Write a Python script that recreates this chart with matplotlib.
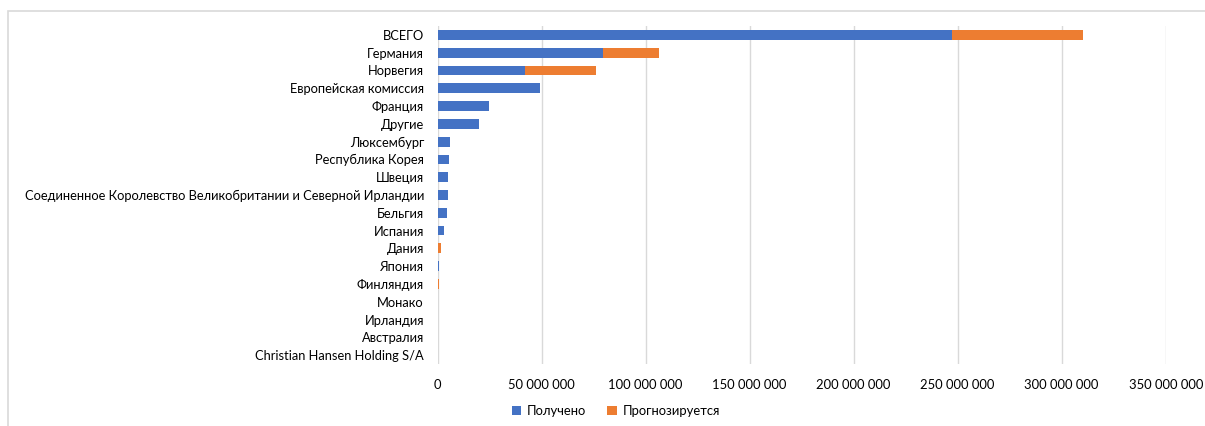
import matplotlib
matplotlib.use("Agg")
import matplotlib.pyplot as plt
from matplotlib.patches import Rectangle
from matplotlib.ticker import FuncFormatter

categories = [
    "ВСЕГО", "Германия", "Норвегия", "Европейская комиссия", "Франция", "Другие",
    "Люксембург", "Республика Корея", "Швеция",
    "Соединенное Королевство Великобритании и Северной Ирландии",
    "Бельгия", "Испания", "Дания", "Япония", "Финляндия", "Монако",
    "Ирландия", "Австралия", "Christian Hansen Holding S/A",
]
received = [
    247_300_000, 79_600_000, 42_100_000, 49_400_000, 24_900_000, 20_000_000,
    5_900_000, 5_300_000, 5_000_000, 5_000_000, 4_500_000, 3_200_000,
    0, 600_000, 0, 80_000, 50_000, 30_000, 20_000,
]
forecast = [
    63_000_000, 26_800_000, 34_100_000, 0, 0, 0,
    0, 0, 0, 0, 0, 0,
    1_400_000, 0, 500_000, 0, 0, 0, 0,
]
xticks = [0, 50_000_000, 100_000_000, 150_000_000, 200_000_000,
          250_000_000, 300_000_000, 350_000_000]

BLUE = "#4472C4"
ORANGE = "#ED7D31"
GRID = "#D9D9D9"

plt.rcParams["font.family"] = ["Lato", "DejaVu Sans"]

W, H = 1205, 426
fig = plt.figure(figsize=(W / 100, H / 100), dpi=100)
ax = fig.add_axes([437.6 / W, 1 - 364 / H, (1165.7 - 437.6) / W, (364 - 26) / H])

y = list(range(len(categories)))
ax.barh(y, received, height=0.55, color=BLUE, label="Получено", zorder=3)
ax.barh(y, forecast, left=received, height=0.55, color=ORANGE,
        label="Прогнозируется", zorder=3)

ax.set_ylim(len(categories) - 0.5, -0.5)
ax.set_xlim(0, 350_000_000)
ax.set_yticks(y)
ax.set_yticklabels(categories, fontsize=9.3, color="#000000")
ax.set_xticks(xticks)
ax.xaxis.set_major_formatter(
    FuncFormatter(lambda v, p: f"{int(v):,}".replace(",", " ")))
ax.tick_params(axis="x", labelsize=9.4, labelcolor="#000000", length=0, pad=11)
ax.tick_params(axis="y", length=0, pad=9.8)
ax.grid(axis="x", color=GRID, linewidth=1, zorder=0)
for s in ax.spines.values():
    s.set_visible(False)

# chart frame
fig.patches.append(Rectangle((8 / W, -0.1), 1.2, 1 - 10.5 / H + 0.1,
                             transform=fig.transFigure, fill=False,
                             edgecolor=GRID, linewidth=1.2))

fig.legend(loc="center", bbox_to_anchor=(616 / W, 1 - 411 / H), ncol=2,
           frameon=False, fontsize=9.4, handlelength=0.7, handleheight=0.7,
           handletextpad=0.5, columnspacing=1.6)

fig.savefig("out.png", dpi=100)
